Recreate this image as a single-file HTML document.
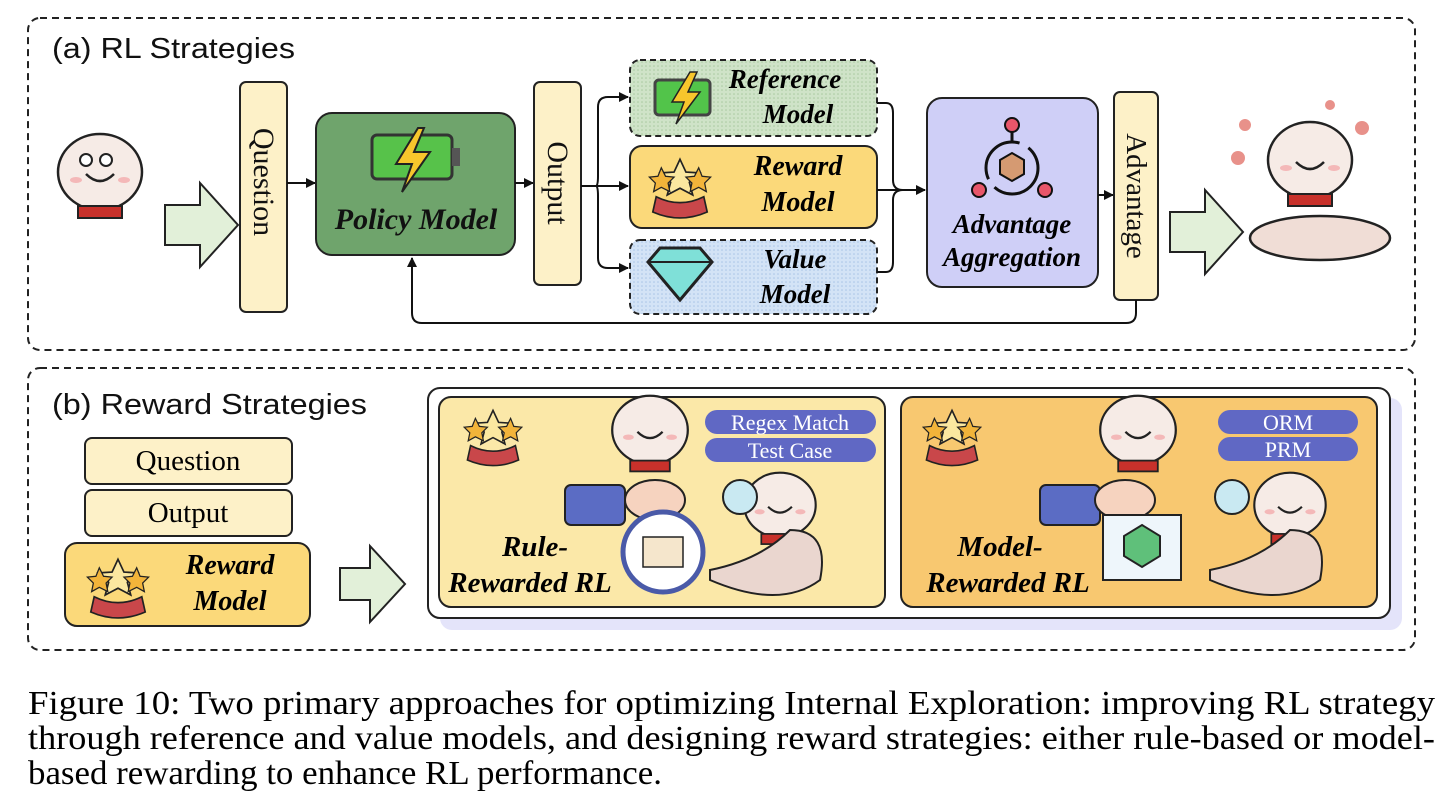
<!DOCTYPE html>
<html><head><meta charset="utf-8"><style>
html,body{margin:0;padding:0;background:#fff}
svg{display:block}
.t{font-family:"Liberation Sans",sans-serif}
.s{font-family:"Liberation Serif",serif}
.bi{font-family:"Liberation Serif",serif;font-weight:bold;font-style:italic}
</style></head><body>
<svg width="1440" height="803" viewBox="0 0 1440 803" xmlns="http://www.w3.org/2000/svg">
<defs>
<marker id="ar" markerWidth="10" markerHeight="10" refX="9" refY="5" orient="auto" markerUnits="userSpaceOnUse"><path d="M0,0 L10,5 L0,10 z" fill="#111"/></marker>
<g id="snake">
 <ellipse cx="0" cy="0" rx="42" ry="38" fill="#f6ebe6" stroke="#222" stroke-width="2.5"/>
 <path d="M-14,2 q14,14 28,0" fill="none" stroke="#222" stroke-width="2.5"/>
 <ellipse cx="-24" cy="8" rx="6" ry="3" fill="#f4b8b8"/>
 <ellipse cx="24" cy="8" rx="6" ry="3" fill="#f4b8b8"/>
 <rect x="-22" y="34" width="44" height="12" fill="#c8312b" stroke="#222" stroke-width="2"/>
</g>
<g id="medal">
 <path d="M-28,22 q28,14 56,0 l4,18 q-32,14 -64,0z" fill="#c9474a" stroke="#222" stroke-width="2"/>
 <polygon points="0,-22 7,-7 23,-6 11,5 15,20 0,12 -15,20 -11,5 -23,-6 -7,-7" fill="#fbe8a0" stroke="#222" stroke-width="2"/>
 <polygon points="-22,-12 -17,-2 -7,-1 -14,6 -12,16 -22,11 -31,16 -29,6 -36,-1 -26,-2" fill="#f2b43a" stroke="#222" stroke-width="1.5"/>
 <polygon points="22,-12 26,-2 36,-1 29,6 31,16 22,11 12,16 14,6 7,-1 17,-2" fill="#f2b43a" stroke="#222" stroke-width="1.5"/>
</g>
<pattern id="pg" width="4" height="4" patternUnits="userSpaceOnUse"><rect width="4" height="4" fill="#cfe3c8"/><circle cx="2" cy="2" r="0.8" fill="#a9c9a0"/></pattern>
<pattern id="pb" width="4" height="4" patternUnits="userSpaceOnUse"><rect width="4" height="4" fill="#d3e3f6"/><circle cx="2" cy="2" r="0.8" fill="#a9c4e6"/></pattern>
</defs>

<!-- (a) -->
<rect x="28" y="18" width="1387" height="332" rx="12" fill="none" stroke="#222" stroke-width="2" stroke-dasharray="7,5"/>
<text x="52" y="58" class="t" font-size="29" fill="#111" textLength="243" lengthAdjust="spacingAndGlyphs">(a) RL Strategies</text>

<use href="#snake" transform="translate(100,172)"/>
<circle cx="86" cy="160" r="6" fill="#fff" stroke="#222" stroke-width="2"/><circle cx="106" cy="160" r="6" fill="#fff" stroke="#222" stroke-width="2"/>
<path d="M165,205 h35 v-22 l38,42 l-38,42 v-22 h-35z" fill="#e2f0d9" stroke="#222" stroke-width="2"/>

<rect x="240" y="82" width="47" height="230" rx="6" fill="#fdf1c8" stroke="#222" stroke-width="2"/>
<text transform="translate(254,182) rotate(90)" text-anchor="middle" class="s" font-size="30" fill="#111">Question</text>
<line x1="287" y1="183" x2="315" y2="183" stroke="#111" stroke-width="2" marker-end="url(#ar)"/>

<rect x="316" y="113" width="199" height="142" rx="16" fill="#6fa46c" stroke="#222" stroke-width="2"/>
<rect x="372" y="135" width="80" height="44" rx="5" fill="#57c24a" stroke="#333" stroke-width="3"/>
<rect x="452" y="148" width="8" height="18" fill="#555"/>
<polygon points="418,128 396,164 412,164 402,192 430,152 414,152 424,128" fill="#f7c62c" stroke="#222" stroke-width="2"/>
<text x="416" y="229" text-anchor="middle" class="bi" font-size="30" fill="#111">Policy Model</text>
<line x1="515" y1="183" x2="533" y2="183" stroke="#111" stroke-width="2" marker-end="url(#ar)"/>

<rect x="534" y="82" width="47" height="203" rx="6" fill="#fdf1c8" stroke="#222" stroke-width="2"/>
<text transform="translate(548,183) rotate(90)" text-anchor="middle" class="s" font-size="30" fill="#111">Output</text>

<path d="M581,186 H598" stroke="#111" stroke-width="2" fill="none"/>
<path d="M596,186 Q598,186 598,176 V107 Q598,97 608,97 H628" stroke="#111" stroke-width="2" fill="none" marker-end="url(#ar)"/>
<line x1="598" y1="186" x2="628" y2="186" stroke="#111" stroke-width="2" marker-end="url(#ar)"/>
<path d="M596,186 Q598,186 598,196 V258 Q598,268 608,268 H628" stroke="#111" stroke-width="2" fill="none" marker-end="url(#ar)"/>

<rect x="630" y="60" width="247" height="76" rx="10" fill="url(#pg)" stroke="#222" stroke-width="2" stroke-dasharray="6,4"/>
<rect x="655" y="80" width="55" height="35" rx="4" fill="#52c44a" stroke="#444" stroke-width="3"/>
<polygon points="690,72 672,102 684,102 676,124 700,92 688,92 697,72" fill="#f7c62c" stroke="#222" stroke-width="1.5"/>
<text x="785" y="88" text-anchor="middle" class="bi" font-size="27">Reference</text>
<text x="798" y="123" text-anchor="middle" class="bi" font-size="27">Model</text>

<rect x="630" y="146" width="247" height="82" rx="12" fill="#fbd97a" stroke="#222" stroke-width="2"/>
<use href="#medal" transform="translate(680,178) scale(0.85)"/>
<text x="798" y="175" text-anchor="middle" class="bi" font-size="28">Reward</text>
<text x="798" y="211" text-anchor="middle" class="bi" font-size="28">Model</text>

<rect x="630" y="240" width="247" height="74" rx="10" fill="url(#pb)" stroke="#222" stroke-width="2" stroke-dasharray="6,4"/>
<polygon points="660,248 700,248 712,262 680,300 648,262" fill="#7fe0d8" stroke="#222" stroke-width="3"/>
<line x1="648" y1="262" x2="712" y2="262" stroke="#222" stroke-width="2"/>
<text x="795" y="268" text-anchor="middle" class="bi" font-size="27">Value</text>
<text x="795" y="303" text-anchor="middle" class="bi" font-size="27">Model</text>

<path d="M877,103 H886 Q893,103 893,113 V180 Q893,190 903,190 M877,272 H886 Q893,272 893,262 V200 Q893,190 903,190 M877,190 H925" stroke="#111" stroke-width="2" fill="none"/>
<line x1="903" y1="190" x2="925" y2="190" stroke="#111" stroke-width="2" marker-end="url(#ar)"/>

<rect x="927" y="98" width="171" height="189" rx="15" fill="#cfcff7" stroke="#222" stroke-width="2"/>
<circle cx="1012" cy="168" r="26" fill="none" stroke="#111" stroke-width="3" stroke-dasharray="60,10"/>
<line x1="1012" y1="130" x2="1012" y2="142" stroke="#111" stroke-width="3"/>
<circle cx="1012" cy="125" r="7" fill="#e8566a" stroke="#111" stroke-width="2"/>
<circle cx="979" cy="190" r="7" fill="#e8566a" stroke="#111" stroke-width="2"/>
<circle cx="1045" cy="190" r="7" fill="#e8566a" stroke="#111" stroke-width="2"/>
<path d="M1000,160 l12,-7 l12,7 v14 l-12,7 l-12,-7z" fill="#d59a72" stroke="#111" stroke-width="2"/>
<text x="1012" y="233" text-anchor="middle" class="bi" font-size="27">Advantage</text>
<text x="1012" y="266" text-anchor="middle" class="bi" font-size="27">Aggregation</text>
<line x1="1098" y1="195" x2="1113" y2="195" stroke="#111" stroke-width="2" marker-end="url(#ar)"/>

<rect x="1114" y="92" width="44" height="208" rx="6" fill="#fdf1c8" stroke="#222" stroke-width="2"/>
<text transform="translate(1127,196) rotate(90)" text-anchor="middle" class="s" font-size="29" fill="#111">Advantage</text>

<path d="M1136,300 V313 Q1136,323 1126,323 H422 Q412,323 412,313 V258" stroke="#111" stroke-width="2" fill="none" marker-end="url(#ar)"/>

<path d="M1170,212 h35 v-22 l38,42 l-38,42 v-22 h-35z" fill="#e2f0d9" stroke="#222" stroke-width="2"/>
<ellipse cx="1320" cy="238" rx="70" ry="22" fill="#f0ddd6" stroke="#222" stroke-width="2.5"/>
<use href="#snake" transform="translate(1310,160)"/>
<circle cx="1245" cy="125" r="6" fill="#e8918a"/><circle cx="1238" cy="158" r="7" fill="#e8918a"/><circle cx="1362" cy="128" r="7" fill="#e8918a"/><circle cx="1330" cy="105" r="5" fill="#e8918a"/>

<!-- (b) -->
<rect x="28" y="368" width="1387" height="282" rx="12" fill="none" stroke="#222" stroke-width="2" stroke-dasharray="7,5"/>
<text x="52" y="414" class="t" font-size="29" fill="#111" textLength="315" lengthAdjust="spacingAndGlyphs">(b) Reward Strategies</text>

<rect x="85" y="438" width="207" height="46" rx="7" fill="#fdf1c8" stroke="#222" stroke-width="2"/>
<text x="188" y="470" text-anchor="middle" class="s" font-size="29">Question</text>
<rect x="85" y="490" width="207" height="46" rx="7" fill="#fdf1c8" stroke="#222" stroke-width="2"/>
<text x="188" y="522" text-anchor="middle" class="s" font-size="29">Output</text>
<rect x="65" y="543" width="245" height="83" rx="12" fill="#fbd97a" stroke="#222" stroke-width="2"/>
<use href="#medal" transform="translate(118,578) scale(0.85)"/>
<text x="230" y="574" text-anchor="middle" class="bi" font-size="28">Reward</text>
<text x="230" y="610" text-anchor="middle" class="bi" font-size="28">Model</text>

<path d="M340,568 h30 v-22 l35,38 l-35,38 v-22 h-30z" fill="#e2f0d9" stroke="#222" stroke-width="2"/>

<rect x="440" y="398" width="962" height="232" rx="12" fill="#e4e4fa"/>
<rect x="428" y="388" width="962" height="230" rx="12" fill="#fff" stroke="#222" stroke-width="2"/>
<rect x="439" y="397" width="446" height="210" rx="12" fill="#fbe8a8" stroke="#222" stroke-width="2"/>
<rect x="901" y="397" width="476" height="210" rx="12" fill="#f8c870" stroke="#222" stroke-width="2"/>

<use href="#medal" transform="translate(493,428) scale(0.8)"/>
<use href="#medal" transform="translate(952,428) scale(0.8)"/>

<!-- left panel art -->
<use href="#snake" transform="translate(650,430) scale(0.9)"/>
<rect x="565" y="485" width="60" height="40" rx="6" fill="#5b6cc4" stroke="#222" stroke-width="2"/>
<ellipse cx="655" cy="500" rx="30" ry="20" fill="#f6d3bf" stroke="#222" stroke-width="2"/>
<use href="#snake" transform="translate(780,505) scale(0.85)"/>
<path d="M710,570 q50,-10 80,-40 q40,0 30,50 q-40,30 -110,0z" fill="#ead6cf" stroke="#222" stroke-width="2"/>
<circle cx="740" cy="497" r="17" fill="#c9e9f2" stroke="#222" stroke-width="2"/>
<circle cx="663" cy="552" r="40" fill="#fff" stroke="#4a5aa8" stroke-width="5"/>
<rect x="643" y="537" width="40" height="30" fill="#f5e6cc" stroke="#222" stroke-width="1.5"/>
<rect x="705" y="410" width="171" height="24" rx="12" fill="#6068c4"/>
<text x="790" y="430" text-anchor="middle" class="s" font-size="22" fill="#fff">Regex Match</text>
<rect x="705" y="438" width="171" height="24" rx="12" fill="#6068c4"/>
<text x="790" y="458" text-anchor="middle" class="s" font-size="22" fill="#fff">Test Case</text>
<text x="535" y="556" text-anchor="middle" class="bi" font-size="29">Rule-</text>
<text x="530" y="592" text-anchor="middle" class="bi" font-size="29">Rewarded RL</text>

<!-- right panel art -->
<use href="#snake" transform="translate(1138,430) scale(0.9)"/>
<rect x="1040" y="485" width="60" height="40" rx="6" fill="#5b6cc4" stroke="#222" stroke-width="2"/>
<ellipse cx="1125" cy="500" rx="30" ry="20" fill="#f6d3bf" stroke="#222" stroke-width="2"/>
<use href="#snake" transform="translate(1290,505) scale(0.85)"/>
<path d="M1210,570 q50,-10 80,-40 q40,0 30,50 q-40,30 -110,0z" fill="#ead6cf" stroke="#222" stroke-width="2"/>
<circle cx="1232" cy="497" r="17" fill="#c9e9f2" stroke="#222" stroke-width="2"/>
<rect x="1103" y="515" width="78" height="65" fill="#eef6fb" stroke="#222" stroke-width="2"/>
<polygon points="1142,525 1160,536 1160,556 1142,567 1124,556 1124,536" fill="#5fc07a" stroke="#222" stroke-width="2"/>
<rect x="1218" y="410" width="140" height="24" rx="12" fill="#6068c4"/>
<text x="1288" y="430" text-anchor="middle" class="s" font-size="22" fill="#fff">ORM</text>
<rect x="1218" y="437" width="140" height="24" rx="12" fill="#6068c4"/>
<text x="1288" y="457" text-anchor="middle" class="s" font-size="22" fill="#fff">PRM</text>
<text x="1000" y="556" text-anchor="middle" class="bi" font-size="29">Model-</text>
<text x="1008" y="592" text-anchor="middle" class="bi" font-size="29">Rewarded RL</text>

<!-- caption -->
<text x="28" y="714" class="s" font-size="34" textLength="1407" lengthAdjust="spacingAndGlyphs">Figure 10: Two primary approaches for optimizing Internal Exploration: improving RL strategy</text>
<text x="28" y="749" class="s" font-size="34" textLength="1407" lengthAdjust="spacingAndGlyphs">through reference and value models, and designing reward strategies: either rule-based or model-</text>
<text x="28" y="784" class="s" font-size="34" textLength="634" lengthAdjust="spacingAndGlyphs">based rewarding to enhance RL performance.</text>
</svg>
</body></html>
